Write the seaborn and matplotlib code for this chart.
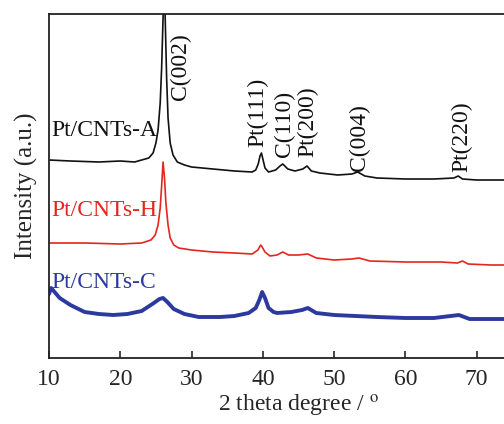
import matplotlib
matplotlib.use("Agg")
import matplotlib.pyplot as plt
import seaborn as sns
import pandas as pd

# ---- data (2theta in degrees, intensity in arbitrary units) ----
theta_A = [10, 13, 17, 20, 22, 24.0, 24.6, 25.0, 25.3, 25.6, 25.8, 26.0, 26.15, 26.3, 26.5,
           26.7, 27.0, 27.4, 28.0, 29.0, 30, 33, 36, 38.5, 39.0, 39.35, 39.6, 39.8, 40.0,
           40.3, 40.8, 41.8, 42.4, 42.8, 43.5, 44.5, 45.6, 46.2, 46.8, 48,
           50.5, 52.5, 53.3, 54.3, 56, 60, 64, 66.8, 67.4, 68.0, 70, 74, 80]
int_A = [198, 197, 196, 197, 196, 200, 205, 215, 228, 255, 290, 340, 375, 340, 280,
         240, 215, 203, 196, 193, 191, 189, 187, 186, 188, 194, 202, 205, 199,
         190, 186, 188, 192, 194, 189, 187, 189, 192, 187, 185,
         183, 184, 186, 182, 180, 179, 179, 180, 182, 179, 178, 178, 177]

theta_H = [10, 15, 20, 23, 24.3, 24.9, 25.3, 25.6, 25.8, 26.0, 26.2, 26.4, 26.7, 27.0,
           27.5, 28.2, 30, 33, 36, 38.5, 39.3, 39.7, 39.9, 40.3, 41.0, 42.0, 42.8, 43.6,
           45, 46.3, 47.5, 50, 52.5, 53.5, 55, 60, 65, 67.3, 68.0, 68.8, 72, 80]
int_H = [115, 115, 114, 115, 118, 123, 133, 150, 172, 196, 180, 155, 133, 120,
         113, 110, 108, 106, 105, 104, 108, 113, 111, 106, 102, 103, 106, 103,
         103, 104, 100, 98, 99, 100, 97, 96, 96, 95, 97, 94, 93, 93]

theta_C = [10, 10.3, 11.5, 13, 15, 17, 19, 21, 23, 24.5, 25.5, 26.0, 26.6, 27.5, 29, 31, 34,
           36, 38, 39.0, 39.5, 39.9, 40.3, 40.8, 41.5, 42, 44, 45.5, 46.3, 47.5, 50, 53, 56,
           60, 64, 67.5, 69, 74, 80]
int_C = [64, 70, 60, 53, 46, 44, 43, 44, 47, 54, 59, 60, 56, 49, 44, 41, 41,
         42, 45, 50, 58, 66, 60, 50, 46, 45, 46, 48, 50, 45, 43, 42, 41,
         40, 40, 43, 39, 39, 39]

sample_names = ["Pt/CNTs-A", "Pt/CNTs-H", "Pt/CNTs-C"]
peak_names = ["C(002)", "Pt(111)", "C(110)", "Pt(200)", "C(004)", "Pt(220)"]
x_ticks = [10, 20, 30, 40, 50, 60, 70]

# ---- styling / placement ----
colors = ["#111111", "#e3261f", "#2c3a9e"]
peak_label_pos = [(28.5, 258), (39.3, 211), (43.0, 201), (46.3, 201), (53.6, 187), (67.9, 186)]
sample_label_pos = [(10.3, 228), (10.3, 148), (10.3, 76)]
line_widths = [1.2, 1.2, 2.8]

sns.set_style("ticks")
plt.rcParams["font.family"] = ["Liberation Serif", "DejaVu Serif"]
plt.rcParams["mathtext.fontset"] = "stix"

fig = plt.figure(figsize=(5.04, 4.24), dpi=100)
ax = fig.add_axes([49 / 504, 66 / 424, 499 / 504, 344 / 424])

frames = [
    pd.DataFrame({"theta": theta_A, "intensity": int_A}),
    pd.DataFrame({"theta": theta_H, "intensity": int_H}),
    pd.DataFrame({"theta": theta_C, "intensity": int_C}),
]
for df, c, lw in zip(frames, colors, line_widths):
    sns.lineplot(data=df, x="theta", y="intensity", ax=ax, color=c, linewidth=lw,
                 sort=False, estimator=None)

ax.set_xlim(10, 80)
ax.set_ylim(0, 344)
ax.set_xticks(x_ticks)
ax.set_yticks([])
ax.tick_params(axis="x", direction="in", length=5, width=1.2, labelsize=17, pad=8)
for s in ax.spines.values():
    s.set_linewidth(1.3)
    s.set_color("#222222")

ax.set_xlabel("2 theta degree / $^{\\mathrm{o}}$", fontsize=17, labelpad=2)
ax.set_ylabel("Intensity (a.u.)", fontsize=18, labelpad=8)

for name, (x, y), c in zip(sample_names, sample_label_pos, colors):
    ax.text(x, y, name, color=c, fontsize=17, ha="left", va="center")
for name, (x, y) in zip(peak_names, peak_label_pos):
    ax.text(x, y, name, rotation=90, fontsize=17, ha="center", va="bottom", color="#111111")

fig.savefig("out.png", dpi=100)
